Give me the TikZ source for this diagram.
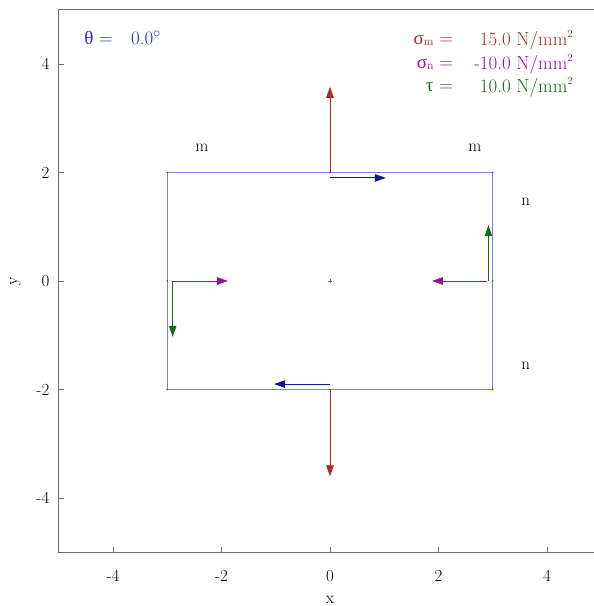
\documentclass[tikz,border=0pt]{standalone}
\usepackage{fontspec}
\newfontfamily\grk{Liberation Serif}
\usetikzlibrary{arrows.meta}
\definecolor{sigm}{RGB}{165,45,45}
\definecolor{sign}{RGB}{145,20,145}
\definecolor{taucol}{RGB}{25,105,25}
\definecolor{shear}{RGB}{20,20,140}
\definecolor{rectblue}{RGB}{125,125,232}
\definecolor{thetablue}{RGB}{40,40,210}
\definecolor{axisgray}{RGB}{110,110,110}
\newcommand{\sqsup}{\raisebox{0.42em}{\fontsize{11}{12}\selectfont 2}}
\newcommand{\smallsub}[1]{\raisebox{-0.08em}{\fontsize{12}{13}\selectfont #1}}
\tikzset{
  axisline/.style={draw=axisgray, line width=0.9bp},
  tickmark/.style={draw=axisgray, line width=0.8bp},
  ticklabel/.style={inner sep=0pt, font=\fontsize{17}{20}\selectfont},
  vec/.style={line width=0.9bp, -{Triangle[length=11bp,width=7.5bp]}},
  sidelabel/.style={inner sep=0pt, font=\fontsize{17}{20}\selectfont},
  info/.style={inner sep=0pt, font=\fontsize{19}{22}\selectfont},
  dotmark/.style={fill=black!70, draw=none},
}
\begin{document}
\begin{tikzpicture}[x=54.25bp,y=54.25bp]
\useasboundingbox (-6.083,-5.991) rectangle (4.866,5.180);
\fill[white] (-6.083,-5.991) rectangle (4.866,5.180);
% frame
\begin{scope}
\clip (-6.083,-5.991) rectangle (4.866,5.180);
\draw[axisline] (-5,-5) rectangle (5,5);
\end{scope}
% ticks and tick labels
\foreach \v in {-4,-2,0,2,4}{
  \draw[tickmark] (-5,\v) -- (-4.9,\v);
  \draw[tickmark] (\v,-5) -- (\v,-4.9);
  \node[ticklabel, anchor=east] (yl\v) at (-5.17,\v) {\v};
  \node[ticklabel] (xl\v) at (\v,-5.44) {\v};
}
\node[ticklabel, rotate=90] (ylab) at (-5.8,0) {y};
\node[ticklabel] (xlab) at (0,-5.88) {x};
% element
\coordinate (tl) at (-3,2);
\coordinate (tr) at (3,2);
\coordinate (br) at (3,-2);
\coordinate (bl) at (-3,-2);
\coordinate (tm) at (0,2);
\coordinate (bm) at (0,-2);
\coordinate (lm) at (-3,0);
\coordinate (rm) at (3,0);
\draw[rectblue, line width=1.1bp] (tl) -- (tr) -- (br) -- (bl) -- cycle;
% normal stresses m
\coordinate (mtop) at (0,3.58);
\coordinate (mbot) at (0,-3.6);
\draw[vec, sigm] (tm) -- (mtop);
\draw[vec, sigm] (bm) -- (mbot);
% shear on m faces
\coordinate (s1a) at (0,1.9);
\coordinate (s1b) at (1.03,1.9);
\coordinate (s2a) at (0,-1.9);
\coordinate (s2b) at (-1.03,-1.9);
\draw[vec, shear] (s1a) -- (s1b);
\draw[vec, shear] (s2a) -- (s2b);
% normal stresses n (compression)
\coordinate (nla) at (-2.9,0);
\coordinate (nlb) at (-1.88,0);
\coordinate (nra) at (2.9,0);
\coordinate (nrb) at (1.88,0);
\draw[vec, sign] (nla) -- (nlb);
\draw[vec, sign] (nra) -- (nrb);
% shear on n faces
\coordinate (tla) at (-2.9,0);
\coordinate (tlb) at (-2.9,-1.03);
\coordinate (tra) at (2.92,0);
\coordinate (trb) at (2.92,1.03);
\draw[vec, taucol] (tla) -- (tlb);
\draw[vec, taucol] (tra) -- (trb);
% small marks
\foreach \p in {tl,tr,br,bl,tm,bm,lm,rm}{
  \fill[dotmark] (\p) circle (0.9bp);
}
% centre
\coordinate (c) at (0,0);
\draw[sigm!80, line width=0.6bp] ([xshift=-2bp]c) -- ([xshift=2bp]c) ([yshift=-2bp]c) -- ([yshift=2bp]c);
% plane labels
\node[sidelabel] (m1) at (-2.36,2.45) {m};
\node[sidelabel] (m2) at (2.67,2.45) {m};
\node[sidelabel] (n1) at (3.61,1.46) {n};
\node[sidelabel] (n2) at (3.61,-1.57) {n};
% info texts
\node[info, thetablue, anchor=west] (th) at (-4.53,4.48) {{\grk θ} =};
\node[info, thetablue, anchor=west] (thv) at (-3.67,4.48) {0.0$^\circ$};
\node[info, sigm, anchor=east] (sml) at (2.27,4.44) {{\grk σ}\smallsub{m} =};
\node[info, sigm, anchor=east] (smv) at (4.48,4.44) {15.0 N/mm\sqsup};
\node[info, sign, anchor=east] (snl) at (2.27,4.0) {{\grk σ}\smallsub{n} =};
\node[info, sign, anchor=east] (snv) at (4.48,4.0) {-10.0 N/mm\sqsup};
\node[info, taucol, anchor=east] (tal) at (2.27,3.57) {{\grk τ} =};
\node[info, taucol, anchor=east] (tav) at (4.48,3.57) {10.0 N/mm\sqsup};
\end{tikzpicture}
\end{document}
